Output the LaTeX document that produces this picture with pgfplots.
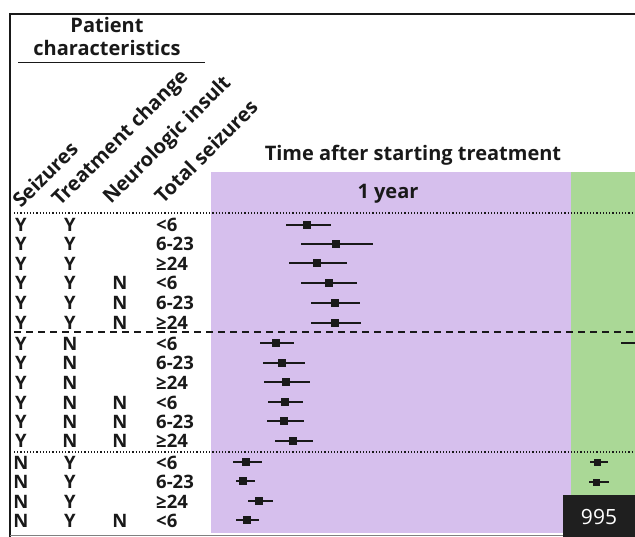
\documentclass[border=0pt]{standalone}
\usepackage{pgfplots}
\pgfplotsset{compat=1.18}
\usepackage{fontspec}
\setmainfont{Open Sans}
\definecolor{purp}{RGB}{214,191,237}
\definecolor{grn}{RGB}{170,216,150}
\definecolor{ink}{RGB}{25,25,25}
\newcommand\rowfont{\bfseries\fontsize{18.5}{18.5}\selectfont}
\newcommand\hdfont{\bfseries\fontsize{20}{20}\selectfont}
\newcommand\rowtxt[5]{%
 \node[anchor=base, inner sep=0, yshift=-6.5pt, font=\rowfont, text=ink] at (axis cs:21,#1) {#2};
 \node[anchor=base, inner sep=0, yshift=-6.5pt, font=\rowfont, text=ink] at (axis cs:70,#1) {#3};
 \node[anchor=base, inner sep=0, yshift=-6.5pt, font=\rowfont, text=ink] at (axis cs:120,#1) {#4};
 \node[anchor=base west, inner sep=0, yshift=-6.5pt, font=\rowfont, text=ink] at (axis cs:156,#1) {#5};}
\pgfplotstableread{
y x em ep
225 307 21 24
244 336 35 37
263 317 28 30
283 329 28 28
303 335 24 25
323 335 24 26
343 276 16 18
363 282 19 23
382 286 22 24
402 285 17 18
421 284 17 20
441 293 18 20
462 246 13 16
481 243 7 12
501 259 11 14
520 247 11 12
}\yearone
\pgfplotstableread{
y x em ep
462 597 7 11
482 596 7 13
}\yeartwo
\begin{document}
\begin{tikzpicture}
\begin{axis}[scale only axis, width=635pt, height=537pt,
  xmin=0, xmax=635, ymin=0, ymax=537, y dir=reverse, hide axis]
\path (rel axis cs:0,0) rectangle (rel axis cs:1,1);
% background panels
\addplot[fill=purp, draw=none] coordinates {(211,172) (571,172) (571,533) (211,533)} -- cycle;
\addplot[fill=grn, draw=none] coordinates {(571,172) (635,172) (635,533) (571,533)} -- cycle;
% frame
\addplot[ink, line width=1.8pt] coordinates {(10,537) (10,14) (635,14)};
\addplot[gray, line width=1pt] coordinates {(10,535) (563,535)};
\addplot[ink, line width=0.8pt] coordinates {(18,62) (205,62)};
% separators
\addplot[ink, line width=1.2pt, dotted] coordinates {(14,213) (635,213)};
\addplot[ink, line width=1.6pt, dash pattern=on 7pt off 5pt] coordinates {(14,332) (635,332)};
\addplot[ink, line width=1.2pt, dotted] coordinates {(14,452) (635,452)};
% estimates
\addplot[ink, only marks, mark=square*, mark size=3.5pt,
  error bars/.cd, x dir=both, x explicit, error mark=none,
  error bar style={line width=1.6pt, ink}]
  table[x=x, y=y, x error plus=ep, x error minus=em] {\yearone};
\addplot[ink, only marks, mark=square*, mark size=3pt,
  error bars/.cd, x dir=both, x explicit, error mark=none,
  error bar style={line width=1.6pt, ink}]
  table[x=x, y=y, x error plus=ep, x error minus=em] {\yeartwo};
\addplot[ink, line width=1.6pt] coordinates {(621,343) (635,343)};
% 995 box
\addplot[fill=black!88, draw=none] coordinates {(563,495) (635,495) (635,537) (563,537)} -- cycle;
\node[text=white, font=\fontsize{21}{21}\selectfont, anchor=base] at (axis cs:599,524) {995};
% headers
\node[anchor=base, font=\hdfont, text=ink, inner sep=0] at (axis cs:107,33) {Patient};
\node[anchor=base, font=\hdfont, text=ink, inner sep=0] at (axis cs:107,56) {characteristics};
\node[anchor=base, font=\hdfont, text=ink, inner sep=0] at (axis cs:413,161) {Time after starting treatment};
\node[anchor=base, font=\hdfont, text=ink, inner sep=0] at (axis cs:388,199) {1 year};
\node[rotate=45, anchor=base west, inner sep=0, font=\hdfont, text=ink] at (axis cs:21,209) {Seizures};
\node[rotate=45, anchor=base west, inner sep=0, font=\hdfont, text=ink] at (axis cs:60,207) {Treatment change};
\node[rotate=45, anchor=base west, inner sep=0, font=\hdfont, text=ink] at (axis cs:111,205) {Neurologic insult};
\node[rotate=45, anchor=base west, inner sep=0, font=\hdfont, text=ink] at (axis cs:163,205) {Total seizures};
% rows
\rowtxt{225}{Y}{Y}{}{<6}
\rowtxt{244}{Y}{Y}{}{6-23}
\rowtxt{264}{Y}{Y}{}{≥24}
\rowtxt{283}{Y}{Y}{N}{<6}
\rowtxt{303}{Y}{Y}{N}{6-23}
\rowtxt{323}{Y}{Y}{N}{≥24}
\rowtxt{344}{Y}{N}{}{<6}
\rowtxt{363}{Y}{N}{}{6-23}
\rowtxt{383}{Y}{N}{}{≥24}
\rowtxt{403}{Y}{N}{N}{<6}
\rowtxt{422}{Y}{N}{N}{6-23}
\rowtxt{441}{Y}{N}{N}{≥24}
\rowtxt{463}{N}{Y}{}{<6}
\rowtxt{482}{N}{Y}{}{6-23}
\rowtxt{502}{N}{Y}{}{≥24}
\rowtxt{521}{N}{Y}{N}{<6}
\end{axis}
\end{tikzpicture}
\end{document}
